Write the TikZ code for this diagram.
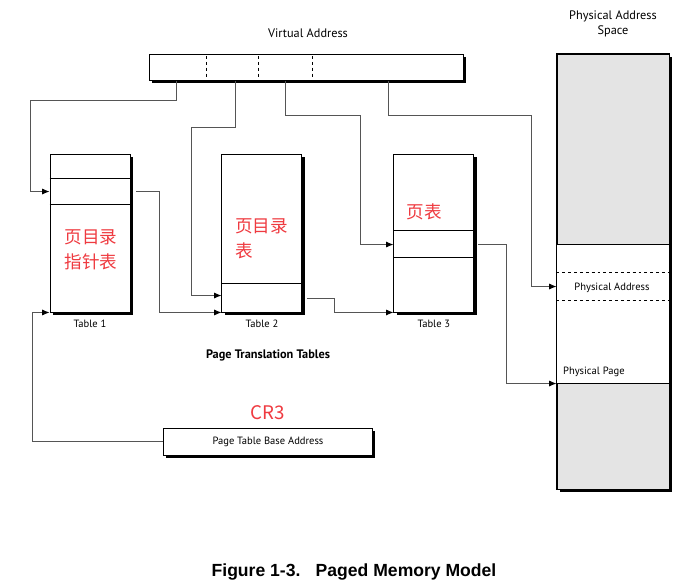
\documentclass[tikz,border=0pt]{standalone}
\usepackage{fontspec}
\setmainfont{PT Sans}
\newfontfamily\cjk{Noto Sans CJK SC}
\newfontfamily\capfont{Liberation Sans}
\usepackage{tikz}
\usetikzlibrary{positioning, calc, shadows, arrows.meta}

\definecolor{hanred}{RGB}{239,58,64}
\definecolor{memgray}{RGB}{228,228,228}
\definecolor{wiregray}{RGB}{85,85,85}

\begin{document}
\begin{tikzpicture}[x=0.03cm, y=-0.03cm,
    box/.style={draw, line width=0.8pt, fill=white, inner sep=0pt,
        drop shadow={shadow xshift=0.08cm, shadow yshift=-0.08cm, opacity=1, fill=black}},
    tbl/.style={box, minimum width=2.4cm, minimum height=4.74cm},
    lbl/.style={font=\fontsize{9}{11}\selectfont},
    head/.style={font=\fontsize{10.5}{13}\selectfont, align=center},
    zh/.style={text=hanred, font=\cjk\fontsize{15}{21}\selectfont, align=center, inner sep=0pt},
    sep/.style={line width=0.7pt, dash pattern=on 2.5pt off 2.5pt},
    ptr/.style={draw=wiregray, line width=0.7pt, -{Latex[length=2.2mm, width=1.8mm, color=black]}}]

    \useasboundingbox (0,0) rectangle (675,586);

    % virtual address
    \node[box, minimum width=9.42cm, minimum height=0.78cm] (va) at (306,67.5) {};
    \node[head] at (308,33) {Virtual Address};
    \foreach \x in {58,110,164}
        \draw[sep] ($(va.north west)+(\x,2)$) -- ($(va.south west)+(\x,-2)$);

    % page translation tables
    \node[tbl] (t1) at (90,233) {};
    \node[tbl, right=2.73cm of t1] (t2) {};
    \node[tbl, right=2.73cm of t2] (t3) {};
    \foreach \t/\d in {t1/25, t1/51, t2/130, t3/77, t3/104}
        \draw[line width=0.8pt] ($(\t.north west)+(0,\d)$) -- ($(\t.north east)+(0,\d)$);
    \node[lbl, below=3pt of t1] {Table 1};
    \node[lbl, below=3pt of t2] {Table 2};
    \node[lbl, below=3pt of t3] {Table 3};
    \node[zh] at (91,250) {页目录\\指针表};
    \node[zh, align=left, anchor=west] at (235,238.5) {页目录\\表};
    \node[zh] at (424,212) {页表};
    \node[head, font=\fontsize{10.5}{13}\selectfont\bfseries] at (268,355) {Page Translation Tables};

    % physical memory
    \node[box, fill=memgray, minimum width=3.36cm, minimum height=13.05cm] (mem) at (613,271.5) {};
    \fill[white] ($(mem.north west)+(0,191)$) rectangle ($(mem.north east)+(0,330)$);
    \foreach \d in {191,330}
        \draw[line width=0.8pt] ($(mem.north west)+(0,\d)$) -- ($(mem.north east)+(0,\d)$);
    \foreach \d in {219,247}
        \draw[sep] ($(mem.north west)+(0,\d)$) -- ($(mem.north east)+(0,\d)$);
    \draw[line width=0.8pt] (mem.north west) rectangle (mem.south east);
    \node[head] at (613,24) {Physical Address\\Space};
    \node[lbl] (pa) at (612,288) {Physical Address};
    \node[lbl, anchor=west] (pp) at (559,372) {Physical Page};

    % CR3
    \node[box, lbl, minimum width=6.27cm, minimum height=0.81cm] (cr) at (268,441.5) {Page Table Base Address};
    \node[text=hanred, font=\cjk\fontsize{16}{18}\selectfont] at (268,413) {CR3};

    \coordinate (f1) at ($(va.south west)+(28,0)$);
    \coordinate (f2) at ($(va.south west)+(87,0)$);
    \coordinate (f3) at ($(va.south west)+(137,0)$);
    \coordinate (f4) at ($(va.south west)+(240,0)$);
    \coordinate (in1) at ($(t1.north west)+(0,38)$);
    \coordinate (in2) at ($(t2.north west)+(0,142)$);
    \coordinate (in3) at ($(t3.north west)+(0,91)$);
    \coordinate (out1) at ($(t1.north east)+(6,38)$);
    \coordinate (out2) at ($(t2.north east)+(5,145)$);
    \coordinate (out3) at ($(t3.north east)+(4,91)$);
    \coordinate (pin) at ($(mem.north west)+(0,233)$);
    \coordinate (pg) at ($(mem.north west)+(0,330)$);

    \draw[ptr] (f1) |- (30,100) |- (in1);
    \draw[ptr] (f2) |- (191,127) |- (in2);
    \draw[ptr] (f3) |- (360,115) |- (in3);
    \draw[ptr] (f4) |- (531,115) |- (pin);
    \draw[ptr] (out1) -- ++(23,0) |- (t2.south west);
    \draw[ptr] (out2) -- ++(27,0) |- (t3.south west);
    \draw[ptr] (out3) -- ++(28,0) |- (pg);
    \draw[ptr] (cr.west) -- ++(-131,0) |- (t1.south west);

    \node[font=\capfont\bfseries\fontsize{15}{17}\selectfont] at (354,572) {Figure 1-3.\hspace{13pt}Paged Memory Model};

\end{tikzpicture}
\end{document}
